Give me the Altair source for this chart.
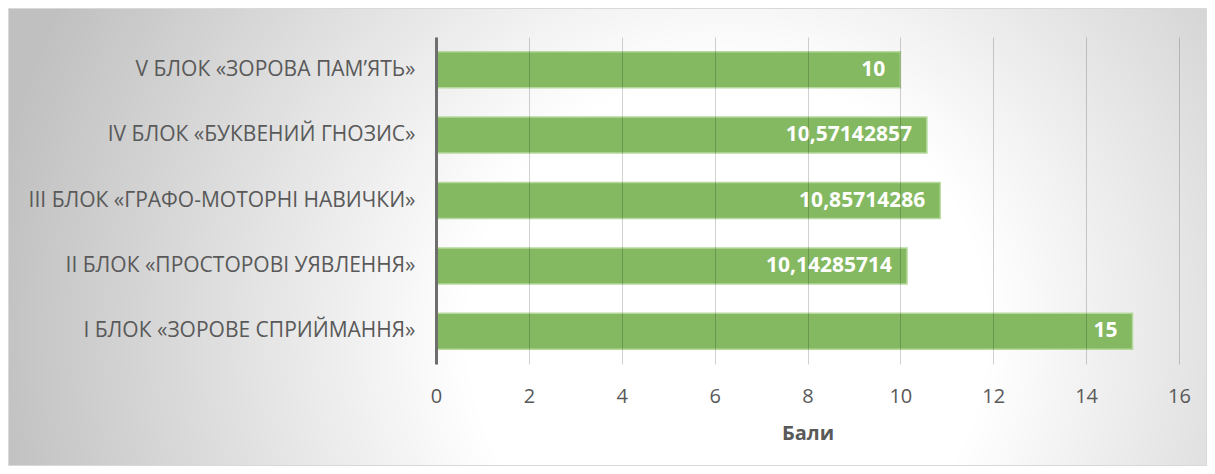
import altair as alt
import pandas as pd

categories = [
    "V БЛОК «ЗОРОВА ПАМ’ЯТЬ»",
    "IV БЛОК «БУКВЕНИЙ ГНОЗИС»",
    "III БЛОК «ГРАФО-МОТОРНІ НАВИЧКИ»",
    "II БЛОК «ПРОСТОРОВІ УЯВЛЕННЯ»",
    "I БЛОК «ЗОРОВЕ СПРИЙМАННЯ»",
]
values = [10, 10.57142857, 10.85714286, 10.14285714, 15]
value_labels = ["10", "10,57142857", "10,85714286", "10,14285714", "15"]
x_ticks = [0, 2, 4, 6, 8, 10, 12, 14, 16]

df = pd.DataFrame({"cat": categories, "val": values, "lab": value_labels})

W, H = 743, 327
PL, PT, PR, PB = 428, 29, 28, 102
FONT = "Open Sans"

bg = alt.Chart(pd.DataFrame({"a": [0]})).mark_rect(
    fill={
        "gradient": "radial",
        "x1": 0.6, "y1": 0.58, "r1": 0.0,
        "x2": 0.6, "y2": 0.58, "r2": 0.62,
        "stops": [
            {"offset": 0.0, "color": "#ffffff"},
            {"offset": 0.35, "color": "#ffffff"},
            {"offset": 1.0, "color": "#c0c0c0"},
        ],
    },
    stroke="#d9d9d9",
    strokeWidth=1,
).encode(
    x=alt.value(-PL + 0.5), x2=alt.value(W + PR - 0.5),
    y=alt.value(-PT + 0.5), y2=alt.value(H + PB - 0.5),
)

base = alt.Chart(df)

y_enc = alt.Y(
    "cat:N", sort=categories, title=None,
    scale=alt.Scale(paddingInner=0.45, paddingOuter=0.225),
    axis=alt.Axis(
        labelFont=FONT, labelFontSize=21, labelColor="#595959",
        labelPadding=21, ticks=False, domain=True, domainColor="#6e6e6e",
        domainWidth=3, grid=False, labelLimit=500, zindex=2,
    ),
)
x_enc = alt.X(
    "val:Q", title="Бали",
    scale=alt.Scale(domain=[0, 16], nice=False),
    axis=alt.Axis(
        values=x_ticks, labelFont=FONT, labelFontSize=20, labelColor="#595959",
        labelPadding=22, labelFlush=False, ticks=False, domain=False, grid=True,
        gridColor="#000000", gridOpacity=0.18, gridWidth=1,
        titleFont=FONT, titleFontSize=20, titleFontWeight="bold",
        titleColor="#595959", titlePadding=17, zindex=1,
    ),
)

bars = base.mark_bar(
    color="#84b962", stroke="#b5d99c", strokeWidth=1.5
).encode(x=x_enc, y=y_enc)

texts = base.mark_text(
    align="right", dx=-15, font=FONT, fontSize=21, fontWeight="bold", color="white"
).encode(x="val:Q", y=alt.Y("cat:N", sort=categories), text="lab:N")

chart = alt.layer(bg, bars, texts).properties(
    width=W, height=H,
    autosize=alt.AutoSizeParams(type="none"),
    padding={"left": PL, "top": PT, "right": PR, "bottom": PB},
).configure_view(stroke=None)

chart.save("out.html", embed_options={"renderer": "svg", "actions": False})
